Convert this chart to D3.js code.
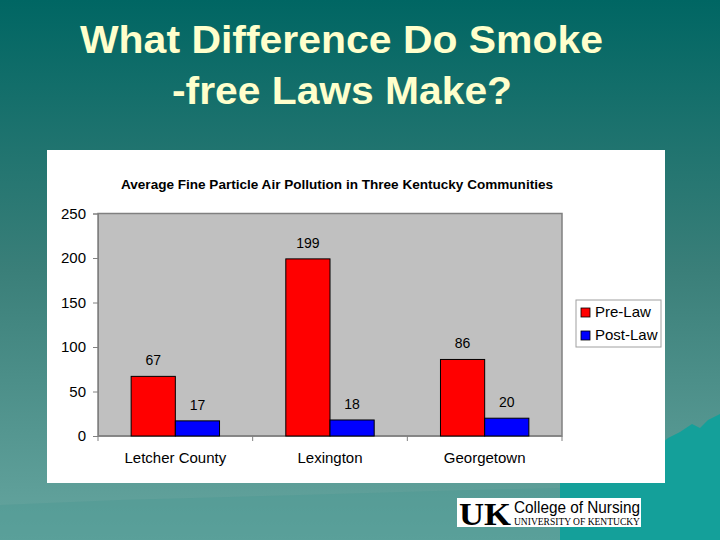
<!DOCTYPE html>
<html><head><meta charset="utf-8">
<script src="https://cdn.jsdelivr.net/npm/d3@7"></script>
<style>body{margin:0;padding:0;}svg{display:block;}</style>
</head><body>
<script>
const categories = ["Letcher County", "Lexington", "Georgetown"];
const seriesNames = ["Pre-Law", "Post-Law"];
const preLaw = [67, 199, 86];
const postLaw = [17, 18, 20];
const yTicks = [0, 50, 100, 150, 200, 250];
const seriesColors = ["#FF0000", "#0000FF"];

(function(){
const W = 720, H = 540;
const svg = d3.select("body").append("svg").attr("width", W).attr("height", H);
const defs = svg.append("defs");
const g = defs.append("linearGradient").attr("id","bg").attr("x1",0).attr("y1",0).attr("x2",0).attr("y2",1);
g.append("stop").attr("offset","0%").attr("stop-color","#006663");
g.append("stop").attr("offset","50%").attr("stop-color","#3a7f79");
g.append("stop").attr("offset","100%").attr("stop-color","#66a6a0");
svg.append("rect").attr("width",W).attr("height",H).attr("fill","url(#bg)");

// decorative hills bottom right
svg.append("path")
  .attr("d","M560,540 L560,470 L600,458 L625,452 L640,448 L660,445 L668,438 L680,432 L692,424 L700,428 L708,420 L720,414 L720,540 Z")
  .attr("fill","#14a09a");
svg.append("path")
  .attr("d","M0,540 L0,505 L120,500 L300,495 L470,490 L560,488 L560,540 Z")
  .attr("fill","#4e9a94").attr("opacity",0.5);

// Slide title
const title = svg.append("g").attr("fill","#FFFFCC")
  .attr("font-family","'Liberation Sans', Arial, sans-serif").attr("font-weight","bold").attr("font-size",39);
title.append("text").attr("x",80).attr("y",53).attr("textLength",523).attr("lengthAdjust","spacingAndGlyphs").text("What Difference Do Smoke");
title.append("text").attr("x",172).attr("y",104).attr("textLength",340).attr("lengthAdjust","spacingAndGlyphs").text("-free Laws Make?");

// Chart panel
svg.append("rect").attr("x",47).attr("y",150).attr("width",618).attr("height",333).attr("fill","#FFFFFF");

svg.append("text").attr("x",337).attr("y",189).attr("text-anchor","middle")
  .attr("font-family","'Liberation Sans', Arial, sans-serif").attr("font-weight","bold").attr("font-size",12.5)
  .attr("textLength",432).attr("lengthAdjust","spacingAndGlyphs")
  .text("Average Fine Particle Air Pollution in Three Kentucky Communities");

const pLeft = 98, pRight = 562, pTop = 213.5, pBottom = 436;
const x = d3.scaleBand().domain(categories).range([pLeft, pRight]).paddingInner(0).paddingOuter(0);
const y = d3.scaleLinear().domain([0, 250]).range([pBottom, pTop]);
const xs = d3.scaleBand().domain(seriesNames).range([0, x.bandwidth()]).paddingInner(0).paddingOuter(0.75);

svg.append("rect").attr("x",pLeft).attr("y",pTop).attr("width",pRight-pLeft).attr("height",pBottom-pTop)
  .attr("fill","#C0C0C0").attr("stroke","#808080").attr("stroke-width",1.5);

// axes
const yAxis = d3.axisLeft(y).tickValues(yTicks).tickSize(5).tickPadding(7);
const ya = svg.append("g").attr("transform",`translate(${pLeft},0)`).call(yAxis);
ya.select(".domain").attr("stroke","#808080");
ya.selectAll(".tick line").attr("stroke","#808080");
ya.selectAll("text").attr("font-family","'Liberation Sans', Arial, sans-serif").attr("font-size",15).attr("fill","#000");

const xa = svg.append("g").attr("transform",`translate(0,${pBottom})`);
xa.append("line").attr("x1",pLeft).attr("x2",pRight).attr("stroke","#808080").attr("stroke-width",1.5);
[...categories.map(c=>x(c)), pRight].forEach(v=>{
  xa.append("line").attr("x1",v).attr("x2",v).attr("y1",0).attr("y2",5).attr("stroke","#808080");
});
categories.forEach(c=>{
  xa.append("text").attr("x",x(c)+x.bandwidth()/2).attr("y",27).attr("text-anchor","middle")
    .attr("font-family","'Liberation Sans', Arial, sans-serif").attr("font-size",15).text(c);
});

const data = categories.map((c,i)=>({cat:c, vals:[preLaw[i], postLaw[i]]}));
const groups = svg.selectAll("g.grp").data(data).join("g").attr("class","grp")
  .attr("transform",d=>`translate(${x(d.cat)},0)`);
groups.selectAll("rect").data(d=>d.vals.map((v,j)=>({v, s:seriesNames[j], j})))
  .join("rect")
  .attr("x",d=>xs(d.s)).attr("width",xs.bandwidth())
  .attr("y",d=>y(d.v)).attr("height",d=>pBottom-y(d.v))
  .attr("fill",d=>seriesColors[d.j]).attr("stroke","#000").attr("stroke-width",1);
groups.selectAll("text").data(d=>d.vals.map((v,j)=>({v, s:seriesNames[j], j})))
  .join("text")
  .attr("x",d=>xs(d.s)+xs.bandwidth()/2).attr("y",d=>y(d.v)-11)
  .attr("text-anchor","middle")
  .attr("font-family","'Liberation Sans', Arial, sans-serif").attr("font-size",14).text(d=>d.v);

// legend
const lg = svg.append("g");
lg.append("rect").attr("x",576).attr("y",300).attr("width",85).attr("height",47)
  .attr("fill","#FFFFFF").attr("stroke","#A0A0A0");
seriesNames.forEach((s,i)=>{
  lg.append("rect").attr("x",581).attr("y",308+i*23).attr("width",9).attr("height",9)
    .attr("fill",seriesColors[i]).attr("stroke","#000").attr("stroke-width",0.8);
  lg.append("text").attr("x",595).attr("y",317+i*23)
    .attr("font-family","'Liberation Sans', Arial, sans-serif").attr("font-size",15).text(s);
});

// logo
const logo = svg.append("g");
logo.append("rect").attr("x",457).attr("y",498).attr("width",184).attr("height",29).attr("fill","#FFFFFF");
logo.append("text").attr("x",459).attr("y",525).attr("font-family","'Liberation Serif', serif").attr("font-weight","bold")
  .attr("font-size",32).attr("textLength",52).attr("lengthAdjust","spacingAndGlyphs").text("UK");
logo.append("text").attr("x",514).attr("y",513).attr("font-family","'Liberation Sans', Arial, sans-serif")
  .attr("font-size",16).attr("textLength",126).attr("lengthAdjust","spacingAndGlyphs").text("College of Nursing");
logo.append("text").attr("x",514).attr("y",525).attr("font-family","'Liberation Serif', serif")
  .attr("font-size",10).attr("textLength",126).attr("lengthAdjust","spacingAndGlyphs").text("UNIVERSITY OF KENTUCKY");
})();
</script>
</body></html>
